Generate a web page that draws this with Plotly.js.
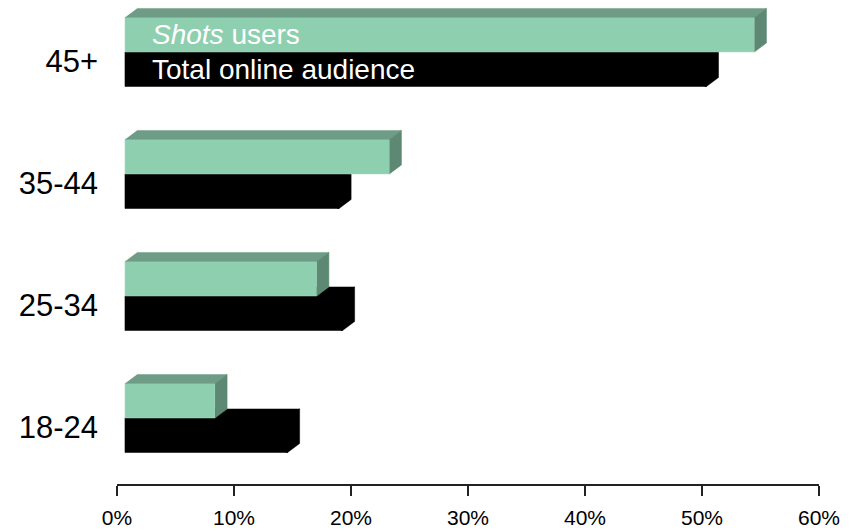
<!DOCTYPE html>
<html>
<head>
<meta charset="utf-8">
<script src="https://cdn.plot.ly/plotly-3.0.1.min.js"></script>
<style>html,body{margin:0;padding:0;background:#fff;}#chart{width:860px;height:531px;}</style>
</head>
<body>
<div id="chart"></div>
<script>
// ---- data ----
const categories = ['18-24', '25-34', '35-44', '45+'];
const shotsUsers = [7.7, 16.4, 22.6, 53.8];      // % Shots users
const totalOnline = [13.9, 18.6, 18.3, 49.7];    // % Total online audience
const xTickVals = [0, 10, 20, 30, 40, 50, 60];
const xTickText = ['0%', '10%', '20%', '30%', '40%', '50%', '60%'];
const seriesNames = ['<i>Shots</i> users', 'Total online audience'];

// ---- styling constants (3D look) ----
const B = 0.68;     // floor set-back of the bars (in axis units)
const H = 0.283;    // bar thickness (category units)
const DX = 1.03;    // depth offset in x (axis units)
const DY = 0.074;   // depth offset in y (category units)
const SEAM = 0.15;  // small overlap so black faces join without a hairline
const GREEN = '#8ecfb0', GREEN_TOP = '#6f9c86', GREEN_SIDE = '#5d8873', BLACK = '#000000';
const XR = [0, 60], YR = [-0.541, 3.426];
const idx = categories.map((c, i) => i);

function polys(list) {
  const xs = [], ys = [];
  list.forEach(p => { p.forEach(v => { xs.push(v[0]); ys.push(v[1]); }); xs.push(null); ys.push(null); });
  return {x: xs, y: ys};
}
function faceTrace(list, color, xa, ya) {
  const p = polys(list);
  return {type: 'scatter', mode: 'lines', x: p.x, y: p.y, fill: 'toself', fillcolor: color,
          line: {color: color, width: 0.5}, hoverinfo: 'skip', showlegend: false, xaxis: xa, yaxis: ya};
}

// black (total online) faces
const blackTop = idx.map(i => { const k = totalOnline[i];
  return [[B, i - 0.01], [B + k, i - 0.01], [B + k + DX, i + DY], [B + DX, i + DY]]; });
const blackSide = idx.map(i => { const k = totalOnline[i];
  return [[B + k - SEAM, i - H], [B + k, i - H], [B + k + DX, i - H + DY], [B + k + DX, i + DY], [B + k - SEAM, i]]; });
// green (shots users) faces
const greenTop = idx.map(i => { const g = shotsUsers[i];
  return [[B, i + H], [B + g, i + H], [B + g + DX, i + H + DY], [B + DX, i + H + DY]]; });
const greenSide = idx.map(i => { const g = shotsUsers[i];
  return [[B + g, i], [B + g + DX, i + DY], [B + g + DX, i + H + DY], [B + g, i + H]]; });

const traces = [
  {type: 'bar', orientation: 'h', name: 'Total online audience', y: idx, x: totalOnline, base: B,
   width: H, offset: -H, marker: {color: BLACK, line: {color: BLACK, width: 0.5}}, xaxis: 'x', yaxis: 'y', showlegend: false},
  faceTrace(blackTop, BLACK, 'x', 'y'),
  faceTrace(blackSide, BLACK, 'x', 'y'),
  {type: 'bar', orientation: 'h', name: 'Shots users', y: idx, x: shotsUsers, base: B,
   width: H, offset: 0, marker: {color: GREEN, line: {color: '#a8dcc3', width: 0.5}}, xaxis: 'x2', yaxis: 'y2', showlegend: false},
  faceTrace(greenTop, GREEN_TOP, 'x2', 'y2'),
  faceTrace(greenSide, GREEN_SIDE, 'x2', 'y2')
];

const topIdx = categories.length - 1;
const layout = {
  width: 860, height: 531,
  margin: {l: 117, r: 41, t: 0, b: 47},
  paper_bgcolor: '#fff', plot_bgcolor: 'rgba(0,0,0,0)',
  font: {family: '"Liberation Sans", Arial, sans-serif', color: '#000'},
  barmode: 'overlay',
  showlegend: false,
  xaxis: {range: XR, fixedrange: true, showgrid: false, zeroline: false, showline: true,
          linecolor: '#222', linewidth: 2, ticks: 'outside', ticklen: 10, tickwidth: 2, tickcolor: '#222',
          tickvals: xTickVals, ticktext: xTickText, tickfont: {size: 21}, ticklabelstandoff: 4},
  yaxis: {range: YR, fixedrange: true, showgrid: false, zeroline: false, showline: false, ticks: '',
          tickvals: idx.map(i => i - DY), ticktext: categories, tickfont: {size: 31}, ticklabelstandoff: 18},
  xaxis2: {range: XR, overlaying: 'x', anchor: 'y2', visible: false, fixedrange: true},
  yaxis2: {range: YR, overlaying: 'y', anchor: 'x2', visible: false, fixedrange: true},
  annotations: [
    {xref: 'x', yref: 'y', x: 2.85, y: topIdx + H / 2, text: seriesNames[0], showarrow: false,
     xanchor: 'left', yanchor: 'middle', font: {size: 28, color: '#fff'}},
    {xref: 'x', yref: 'y', x: 2.85, y: topIdx - H / 2, text: seriesNames[1], showarrow: false,
     xanchor: 'left', yanchor: 'middle', font: {size: 28, color: '#fff'}}
  ]
};

Plotly.newPlot('chart', traces, layout, {staticPlot: true, displayModeBar: false});
</script>
</body>
</html>
